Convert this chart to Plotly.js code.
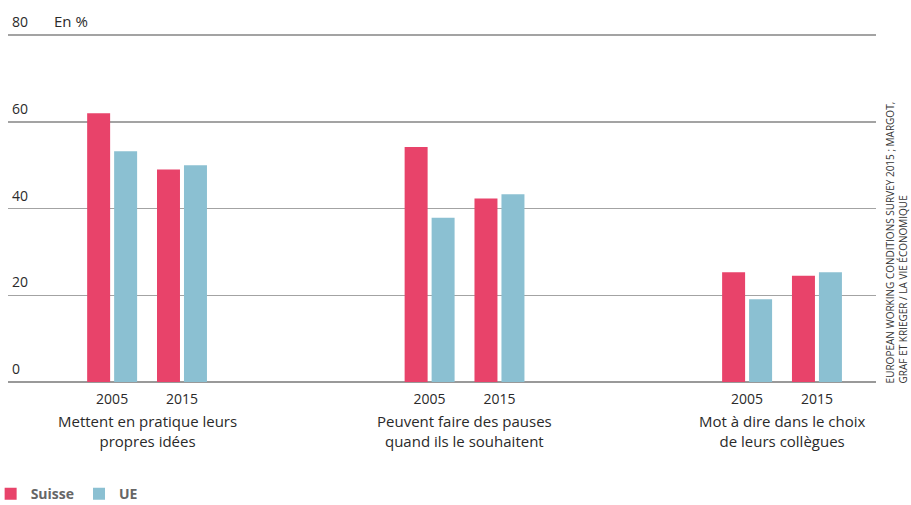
<!DOCTYPE html>
<html>
<head>
<meta charset="utf-8">
<script src="https://cdn.plot.ly/plotly-3.0.1.min.js"></script>
<style>
  html, body { margin: 0; padding: 0; background: #fff; }
  #chart { width: 911px; height: 505px; }
</style>
</head>
<body>
<div id="chart"></div>
<script>
// Survey categories (one cluster each) and the two survey years
const groups = [
  'Mettent en pratique leurs<br>propres idées',
  'Peuvent faire des pauses<br>quand ils le souhaitent',
  'Mot à dire dans le choix<br>de leurs collègues'
];
const years = ['2005', '2015'];

// Share of workers, in %, ordered group by group: [2005, 2015]
const suisse = [62.0, 49.0, 54.2, 42.3, 25.3, 24.5];
const ue     = [53.2, 50.0, 37.9, 43.3, 19.1, 25.3];

const yTicks = [0, 20, 40, 60, 80];

const colSuisse = '#E8436A';
const colUE = '#8BC0D2';
const textColor = '#2a2a2a';
const font = 'Open Sans, Noto Sans, sans-serif';

// x position of each (group, year) pair: group index +/- half the pair spacing
const pairShift = 0.11;
const xPos = [];
const xText = [];
groups.forEach((g, gi) => {
  years.forEach((yr, yi) => {
    xPos.push(gi + (yi === 0 ? -pairShift : pairShift));
    xText.push(yr);
  });
});

const barW = 0.0724;
const traces = [
  {
    type: 'bar', name: 'Suisse', x: xPos, y: suisse,
    width: barW, offset: -0.0787,
    marker: { color: colSuisse },
    hoverinfo: 'name+y'
  },
  {
    type: 'bar', name: 'UE', x: xPos, y: ue,
    width: barW, offset: 0.0063,
    marker: { color: colUE },
    hoverinfo: 'name+y'
  }
];

const annotations = [
  {
    xref: 'paper', yref: 'y', x: 0.0507, y: 80,
    xanchor: 'left', yanchor: 'bottom', yshift: 2,
    text: 'En %', showarrow: false,
    font: { family: font, size: 15, color: textColor }
  },
  {
    xref: 'paper', yref: 'paper', x: 1.0235, y: 0,
    xanchor: 'center', yanchor: 'bottom', yshift: -3,
    textangle: -90, align: 'left',
    text: 'EUROPEAN WORKING CONDITIONS SURVEY 2015 ; MARGOT,<br>GRAF ET KRIEGER / LA VIE ÉCONOMIQUE',
    showarrow: false,
    font: { family: font, size: 10, color: '#333' }
  }
];
// value labels of the y axis, sitting just above their grid lines
yTicks.forEach(v => {
  annotations.push({
    xref: 'paper', yref: 'y', x: 0.002, y: v,
    xanchor: 'left', yanchor: 'bottom', yshift: 2,
    text: String(v), showarrow: false,
    font: { family: font, size: 14, color: textColor }
  });
});
groups.forEach((g, gi) => {
  annotations.push({
    xref: 'x', yref: 'paper', x: gi, y: 0,
    xanchor: 'center', yanchor: 'top', yshift: -27,
    text: g, showarrow: false, align: 'center',
    font: { family: font, size: 15, color: textColor }
  });
});

const layout = {
  width: 911, height: 505,
  margin: { l: 8, r: 35, t: 34, b: 123, autoexpand: false },
  paper_bgcolor: '#fff', plot_bgcolor: '#fff',
  barmode: 'overlay',
  showlegend: true,
  legend: {
    orientation: 'h', x: -0.02, xanchor: 'left',
    y: -0.322, yanchor: 'middle',
    font: { family: font, size: 14, color: '#666', weight: 'bold' },
    itemwidth: 30, tracegroupgap: 0
  },
  xaxis: {
    range: [-0.438, 2.296],
    tickvals: xPos, ticktext: xText,
    showgrid: false, zeroline: false, showline: false,
    ticks: '', ticklabelstandoff: 7,
    tickfont: { family: font, size: 14, color: textColor },
    automargin: false,
    fixedrange: true
  },
  yaxis: {
    range: [0, 80.25],
    tickvals: yTicks, showticklabels: false,
    showgrid: true, gridcolor: '#a3a3a3', gridwidth: 1.5,
    zeroline: true, zerolinecolor: '#999', zerolinewidth: 1.5,
    showline: false, ticks: '',
    automargin: false,
    fixedrange: true
  },
  annotations: annotations
};

Plotly.newPlot('chart', traces, layout, { displayModeBar: false, staticPlot: true });
</script>
</body>
</html>
